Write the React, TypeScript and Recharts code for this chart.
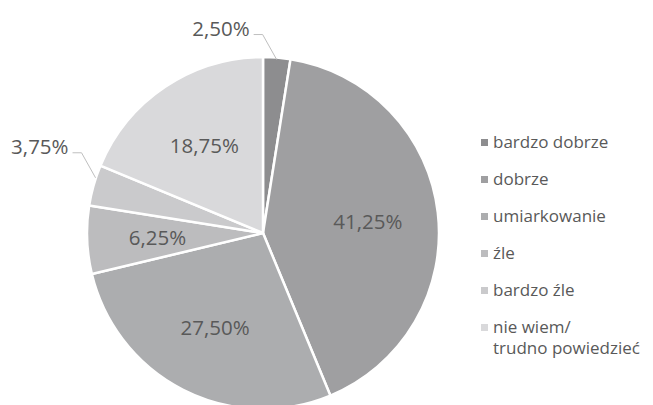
import React from "react";
import { Cell, Legend, Pie, PieChart } from "recharts";

const categories = [
	"bardzo dobrze",
	"dobrze",
	"umiarkowanie",
	"źle",
	"bardzo źle",
	"nie wiem/ trudno powiedzieć",
];
const shares = [2.5, 41.25, 27.5, 6.25, 3.75, 18.75];
const labelTexts = ["2,50%", "41,25%", "27,50%", "6,25%", "3,75%", "18,75%"];
const colors = ["#8d8d8f", "#9f9fa1", "#acadaf", "#bcbcbe", "#cacacc", "#d9d9db"];

const chartData = categories.map((name, i) => ({ name, value: shares[i] }));

const RADIAN = Math.PI / 180;
const textColor = "#595959";
const font = "'Open Sans', sans-serif";

const renderLabel = (props: any) => {
	const { cx, cy, midAngle, outerRadius, percent, index } = props;
	const cos = Math.cos(-midAngle * RADIAN);
	const sin = Math.sin(-midAngle * RADIAN);
	if (percent > 0.05) {
		const r = outerRadius * 0.6;
		return (
			<text
				x={cx + r * cos}
				y={cy + r * sin}
				fill={textColor}
				fontSize={20.5}
				fontFamily={font}
				textAnchor="middle"
				dominantBaseline="central"
			>
				{labelTexts[index]}
			</text>
		);
	}
	// small slices: leader line up-left to a label outside the pie
	const sx = cx + (outerRadius - 2) * cos;
	const sy = cy + (outerRadius - 2) * sin - (cos < 0 ? 8 : 0);
	const ex = sx - 14;
	const ey = sy - 25;
	const hx = ex - 9;
	return (
		<g>
			<polyline
				points={`${sx},${sy} ${ex},${ey} ${hx},${ey}`}
				fill="none"
				stroke="#bfbfbf"
				strokeWidth={1}
			/>
			<text
				x={hx - 4}
				y={ey - 7}
				fill={textColor}
				fontSize={20.5}
				fontFamily={font}
				textAnchor="end"
				dominantBaseline="central"
			>
				{labelTexts[index]}
			</text>
		</g>
	);
};

const renderLegend = () => (
	<div style={{ fontFamily: font, fontSize: 17, color: textColor }}>
		{categories.map((name, i) => (
			<div
				key={name}
				style={{ display: "flex", alignItems: "flex-start", height: 37 }}
			>
				<span
					style={{
						display: "inline-block",
						width: 7,
						height: 7,
						background: colors[i],
						marginTop: 8,
						marginRight: 5,
						flexShrink: 0,
					}}
				/>
				<span style={{ lineHeight: "21px", width: 160 }}>
					{name.includes("/")
						? name.split("/ ").map((part, j, arr) => (
								<div key={j}>{j < arr.length - 1 ? part + "/" : part}</div>
							))
						: name}
				</span>
			</div>
		))}
	</div>
);

const App: React.FC = () => {
	return (
		<div style={{ position: "absolute", left: 0, top: 0, background: "#fff" }}>
			<PieChart
				width={653}
				height={405}
				margin={{ top: 0, right: 0, bottom: 0, left: 0 }}
			>
				<Pie
					data={chartData}
					dataKey="value"
					nameKey="name"
					cx={263}
					cy={233}
					outerRadius={176}
					startAngle={90}
					endAngle={-270}
					stroke="#ffffff"
					strokeWidth={2.5}
					label={renderLabel}
					labelLine={false}
					isAnimationActive={false}
				>
					{chartData.map((entry, i) => (
						<Cell key={entry.name} fill={colors[i]} />
					))}
				</Pie>
				<Legend
					content={renderLegend}
					layout="vertical"
					wrapperStyle={{ left: 481, top: 131, width: 172 }}
				/>
			</PieChart>
		</div>
	);
};

export default App;
